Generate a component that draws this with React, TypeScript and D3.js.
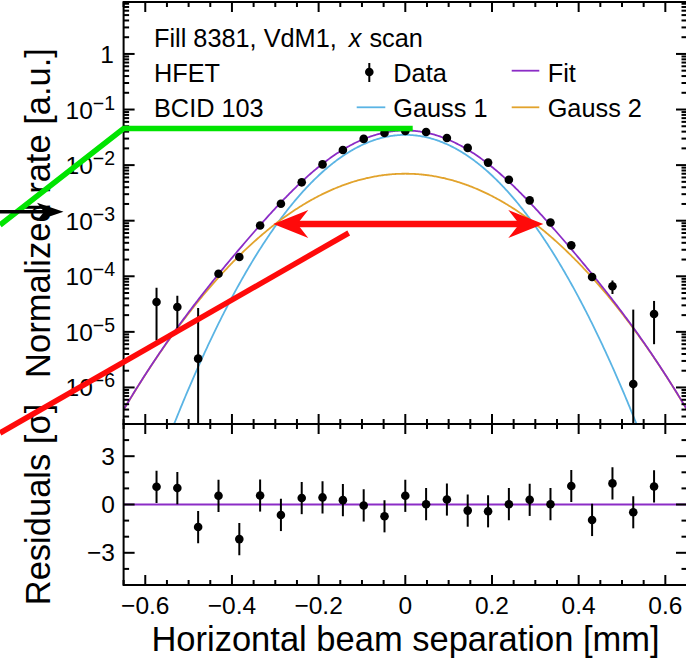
import React from 'react';
import * as d3 from 'd3';

// ---------- data ----------
const separations = [-0.574, -0.526, -0.478, -0.431, -0.383, -0.335, -0.287, -0.239, -0.191, -0.144, -0.096, -0.048, 0, 0.048, 0.096, 0.144, 0.191, 0.239, 0.287, 0.335, 0.383, 0.431, 0.478, 0.526, 0.574];
const rateValues = [3.45e-5, 2.8e-5, 3.3e-6, 1.11e-4, 2.22e-4, 8.2e-4, 2.02e-3, 4.9e-3, 1.03e-2, 1.87e-2, 2.96e-2, 3.8e-2, 4.12e-2, 3.95e-2, 3.08e-2, 2.04e-2, 1.11e-2, 5.45e-3, 2.32e-3, 9.3e-4, 3.6e-4, 9.7e-5, 6.6e-5, 1.15e-6, 2.1e-5];
const rateErrors = [2.75e-5, 1.65e-5, 2.37e-5, 8e-6, 1.2e-5, 2.5e-5, 4e-5, 6e-5, 9e-5, 1.2e-4, 1.5e-4, 1.7e-4, 1.8e-4, 1.7e-4, 1.5e-4, 1.2e-4, 9e-5, 6e-5, 4e-5, 2.5e-5, 1.5e-5, 1.5e-5, 1.8e-5, 2.4e-5, 1.5e-5];
const residualValues = [1.1, 1.02, -1.4, 0.54, -2.15, 0.56, -0.65, 0.4, 0.44, 0.27, -0.06, -0.73, 0.54, 0.02, 0.31, -0.38, -0.42, 0.02, 0.29, 0.02, 1.15, -0.96, 1.31, -0.48, 1.12];
const residualErrors = [1, 1, 1, 1, 1, 1, 1, 1, 1, 1, 1, 1, 1, 1, 1, 1, 1, 1, 1, 1, 1, 1, 1, 1, 1];

// fit components (double Gaussian)
const componentNames = ['Gauss 1', 'Gauss 2'];
const componentAmplitudes = [0.035, 0.007];
const componentMeans = [0, 0];
const componentSigmas = [0.109, 0.147];

const xTickValues = [-0.6, -0.4, -0.2, 0, 0.2, 0.4, 0.6];
const xTickLabels = ['\u22120.6', '\u22120.4', '\u22120.2', '0', '0.2', '0.4', '0.6'];
const logDecades = [0, -1, -2, -3, -4, -5, -6];
const residualTickValues = [3, 0, -3];
const residualTickLabels = ['3', '0', '\u22123'];

const infoLines = ['Fill 8381, VdM1,', 'HFET', 'BCID 103'];

// ---------- style ----------
const FONT = 'Liberation Sans, Arial, Helvetica, sans-serif';
const C_FIT = '#8b2cc6';
const C_G1 = '#5ab4e4';
const C_G2 = '#e2a32c';
const C_GREEN = '#00e400';
const C_RED = '#ff0a0a';

export default function App() {
  const left = 123.6, right = 687;
  const topY = 2, midY = 424, botY = 585;
  const x = d3.scaleLinear().domain([-0.65, 0.65]).range([left, right]);
  const yTop = d3.scaleLog().domain([2.2e-7, 8.6]).range([midY, topY]);
  const yRes = d3.scaleLinear().domain([-5, 5]).range([botY, midY]);

  const gauss = (k: number, v: number) =>
    componentAmplitudes[k] * Math.exp(-((v - componentMeans[k]) ** 2) / (2 * componentSigmas[k] ** 2));
  const samples = d3.range(-0.65, 0.6501, 0.0025);
  const safe = (v: number) => Math.max(v, 1e-12);
  const lineGen = d3.line<[number, number]>().x(d => x(d[0])).y(d => yTop(safe(d[1])));
  const g1Path = lineGen(samples.map(s => [s, gauss(0, s)]))!;
  const g2Path = lineGen(samples.map(s => [s, gauss(1, s)]))!;
  const fitPath = lineGen(samples.map(s => [s, gauss(0, s) + gauss(1, s)]))!;

  // ticks
  const xMinor = d3.range(-0.65, 0.6501, 0.05).filter(v => xTickValues.every(t => Math.abs(t - v) > 1e-6));
  const logMinor: number[] = [];
  for (let d = -7; d <= 1; d++) for (let k = 2; k <= 9; k++) {
    const v = k * Math.pow(10, d);
    if (v > 2.2e-7 && v < 8.6) logMinor.push(v);
  }
  const resMinor = d3.range(-5, 6).filter(v => !residualTickValues.includes(v));

  const ticks: JSX.Element[] = [];
  const tk = (x1: number, y1: number, x2: number, y2: number, key: string) =>
    ticks.push(<line key={key} x1={x1} y1={y1} x2={x2} y2={y2} stroke="#000" strokeWidth={2} />);
  xTickValues.forEach((v, i) => {
    const px = x(v);
    tk(px, topY, px, topY + 10, 'xt' + i);
    tk(px, midY, px, midY - 10, 'xm' + i);
    tk(px, midY, px, midY + 10, 'xr' + i);
    tk(px, botY, px, botY - 10, 'xb' + i);
  });
  xMinor.forEach((v, i) => {
    const px = x(v);
    tk(px, topY, px, topY + 5, 'mxt' + i);
    tk(px, midY, px, midY - 5, 'mxm' + i);
    tk(px, midY, px, midY + 5, 'mxr' + i);
    tk(px, botY, px, botY - 5, 'mxb' + i);
  });
  logDecades.forEach((d, i) => {
    const py = yTop(Math.pow(10, d));
    tk(left, py, left + 11, py, 'ly' + i);
    tk(right, py, right - 11, py, 'ry' + i);
  });
  logMinor.forEach((v, i) => {
    const py = yTop(v);
    tk(left, py, left + 5.5, py, 'mly' + i);
    tk(right, py, right - 5.5, py, 'mry' + i);
  });
  residualTickValues.forEach((v, i) => {
    const py = yRes(v);
    tk(left, py, left + 11, py, 'rly' + i);
    tk(right, py, right - 11, py, 'rry' + i);
  });
  resMinor.forEach((v, i) => {
    const py = yRes(v);
    tk(left, py, left + 5.5, py, 'mrly' + i);
    tk(right, py, right - 5.5, py, 'mrry' + i);
  });

  const redHead = (tipX: number, y: number, dir: number) => {
    const L = 35, hw = 14, notch = 24;
    return `M${tipX},${y} L${tipX - dir * L},${y - hw} L${tipX - dir * notch},${y} L${tipX - dir * L},${y + hw} Z`;
  };

  return (
    <svg width={686} height={658} style={{ position: 'absolute', left: 0, top: 0, background: '#fff' }}
      fontFamily={FONT}>
      <defs>
        <clipPath id="topClip"><rect x={left} y={topY} width={right - left} height={midY - topY} /></clipPath>
        <clipPath id="resClip"><rect x={left} y={midY} width={right - left} height={botY - midY} /></clipPath>
      </defs>
      <rect x={0} y={0} width={686} height={658} fill="#fff" />

      {/* top panel curves */}
      <g clipPath="url(#topClip)" fill="none">
        <path d={g1Path} stroke={C_G1} strokeWidth={1.8} />
        <path d={g2Path} stroke={C_G2} strokeWidth={1.8} />
        <path d={fitPath} stroke={C_FIT} strokeWidth={1.8} />
        {separations.map((s, i) => {
          const lo = rateValues[i] - rateErrors[i];
          const y1 = yTop(rateValues[i] + rateErrors[i]);
          const y2 = lo > 0 ? yTop(lo) : midY + 5;
          return <line key={'e' + i} x1={x(s)} x2={x(s)} y1={y1} y2={y2} stroke="#000" strokeWidth={2} />;
        })}
        {separations.map((s, i) => (
          <circle key={'p' + i} cx={x(s)} cy={yTop(rateValues[i])} r={4.3} fill="#000" />
        ))}
      </g>

      {/* residual panel */}
      <g clipPath="url(#resClip)">
        <line x1={left} x2={right} y1={yRes(0)} y2={yRes(0)} stroke={C_FIT} strokeWidth={2} />
        {separations.map((s, i) => (
          <line key={'re' + i} x1={x(s)} x2={x(s)} y1={yRes(residualValues[i] + residualErrors[i])}
            y2={yRes(residualValues[i] - residualErrors[i])} stroke="#000" strokeWidth={2} />
        ))}
        {separations.map((s, i) => (
          <circle key={'rp' + i} cx={x(s)} cy={yRes(residualValues[i])} r={4.3} fill="#000" />
        ))}
      </g>

      {/* frames & ticks */}
      <rect x={left} y={topY} width={right - left} height={midY - topY} fill="none" stroke="#000" strokeWidth={2} />
      <rect x={left} y={midY} width={right - left} height={botY - midY} fill="none" stroke="#000" strokeWidth={2} />
      {ticks}

      {/* tick labels */}
      {xTickValues.map((v, i) => (
        <text key={'xl' + i} x={x(v)} y={613.5} fontSize={24.5} textAnchor="middle">{xTickLabels[i]}</text>
      ))}
      {logDecades.map((d, i) => {
        const py = yTop(Math.pow(10, d));
        if (d === 0) return <text key={'yl' + i} x={114} y={py + 9} fontSize={24.5} textAnchor="end">1</text>;
        return (
          <text key={'yl' + i} x={115} y={py + 9} fontSize={24.5} textAnchor="end">
            10<tspan dy={-9} fontSize={19.5}>{'\u2212' + Math.abs(d)}</tspan>
          </text>
        );
      })}
      {residualTickValues.map((v, i) => (
        <text key={'rl' + i} x={115} y={yRes(v) + 8.5} fontSize={24.5} textAnchor="end">{residualTickLabels[i]}</text>
      ))}

      {/* axis titles */}
      <text x={405.5} y={651} fontSize={34.5} textAnchor="middle">Horizontal beam separation [mm]</text>
      <text transform={`translate(50,${(topY + midY) / 2}) rotate(-90)`} fontSize={34.5} textAnchor="middle">Normalized rate [a.u.]</text>
      <text transform={`translate(50,${(midY + botY) / 2}) rotate(-90)`} fontSize={34.5} textAnchor="middle">Residuals [σ]</text>

      {/* info text */}
      <text x={154} y={46.5} fontSize={25.3}>{infoLines[0]}<tspan dx={12} fontStyle="italic">x</tspan><tspan dx={8}>scan</tspan></text>
      <text x={154} y={82} fontSize={25.3}>{infoLines[1]}</text>
      <text x={154} y={117} fontSize={25.3}>{infoLines[2]}</text>

      {/* legend */}
      <line x1={369.3} x2={369.3} y1={63} y2={82} stroke="#000" strokeWidth={2} />
      <circle cx={369.3} cy={72} r={4.3} fill="#000" />
      <text x={393.3} y={81.7} fontSize={25.3}>Data</text>
      <line x1={511.7} x2={539.3} y1={70.7} y2={70.7} stroke={C_FIT} strokeWidth={1.8} />
      <text x={547.7} y={81.7} fontSize={25.3}>Fit</text>
      <line x1={356.7} x2={385.3} y1={107.3} y2={107.3} stroke={C_G1} strokeWidth={1.8} />
      <text x={393.3} y={117.3} fontSize={25.3}>{componentNames[0]}</text>
      <line x1={511.7} x2={539.3} y1={107.3} y2={107.3} stroke={C_G2} strokeWidth={1.8} />
      <text x={547.7} y={117.3} fontSize={25.3}>{componentNames[1]}</text>

      {/* annotations */}
      <polyline points={`0,225 ${left},128.5 412.7,128.5`} fill="none" stroke={C_GREEN} strokeWidth={5.5} />
      <line x1={0} y1={211.7} x2={46} y2={211.7} stroke="#000" strokeWidth={3.5} />
      <path d="M63.5,211.7 L37,202.7 L44,211.7 L37,220.7 Z" fill="#000" />
      <line x1={292} y1={224} x2={524} y2={224} stroke={C_RED} strokeWidth={6.5} />
      <path d={redHead(273.3, 224, -1)} fill={C_RED} />
      <path d={redHead(543.3, 224, 1)} fill={C_RED} />
      <line x1={0} y1={433} x2={348.7} y2={233} stroke={C_RED} strokeWidth={5.5} />
    </svg>
  );
}
